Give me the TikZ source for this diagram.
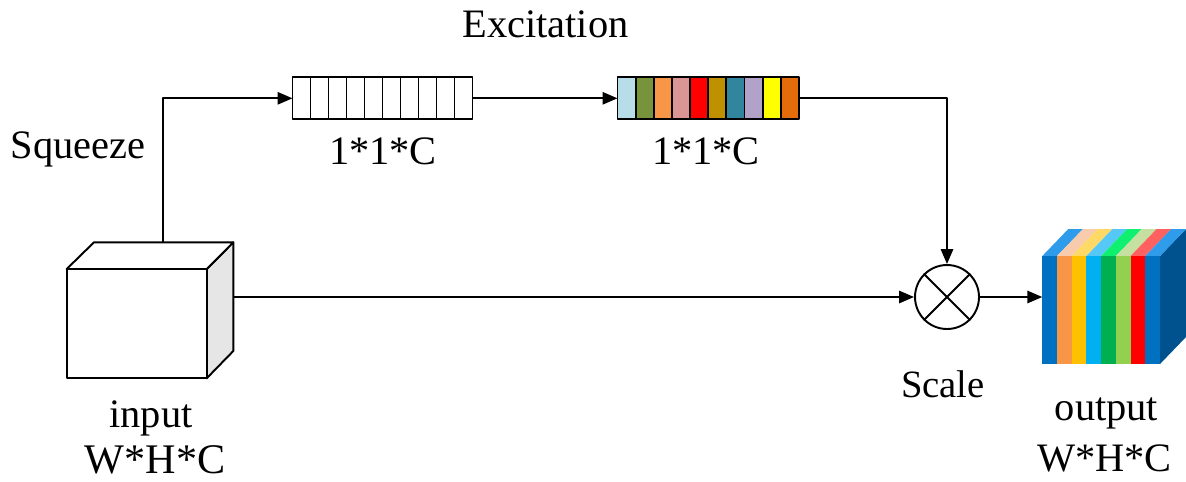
\documentclass[tikz,border=0pt]{standalone}
\usepackage{fontspec}
\setmainfont{Liberation Serif}
\usetikzlibrary{arrows.meta,calc}
% stripe colours of the excitation vector
\definecolor{e1}{HTML}{B7DDE8}
\definecolor{e2}{HTML}{77933C}
\definecolor{e3}{HTML}{F79646}
\definecolor{e4}{HTML}{D99694}
\definecolor{e5}{HTML}{FF0000}
\definecolor{e6}{HTML}{BF9000}
\definecolor{e7}{HTML}{31859C}
\definecolor{e8}{HTML}{B3A2C7}
\definecolor{e9}{HTML}{FFFF00}
\definecolor{e10}{HTML}{E46C0A}
% output block: front stripes and their lighter tops
\definecolor{f1}{HTML}{0070C0}\definecolor{t1}{HTML}{2E9BEB}
\definecolor{f2}{HTML}{F79646}\definecolor{t2}{HTML}{F8CBAD}
\definecolor{f3}{HTML}{FFC000}\definecolor{t3}{HTML}{FFD966}
\definecolor{f4}{HTML}{00B0F0}\definecolor{t4}{HTML}{55C8F8}
\definecolor{f5}{HTML}{00B050}\definecolor{t5}{HTML}{10F070}
\definecolor{f6}{HTML}{92D050}\definecolor{t6}{HTML}{C5E0A0}
\definecolor{f7}{HTML}{FF0000}\definecolor{t7}{HTML}{FF6060}
\definecolor{f8}{HTML}{0070C0}\definecolor{t8}{HTML}{2E9BEB}
\definecolor{outside}{HTML}{00528F}
\definecolor{inside}{HTML}{E6E6E6}
\begin{document}
\begin{tikzpicture}[x=0.02cm,y=-0.02cm,
  line width=1.1pt, line join=round,
  arr/.style={-{Triangle[length=8.5pt,width=7pt]}},
  lbl/.style={font=\fontsize{23}{27}\selectfont, inner sep=0pt, anchor=base},
  cell/.style={draw, line width=1.1pt},
  barbox/.style={minimum width=3.6cm, minimum height=0.84cm, inner sep=0pt, outer sep=0pt},
  mulnode/.style={circle, draw, minimum size=1.28cm, inner sep=0pt}]
\useasboundingbox (0,0) rectangle (1186,481);

% input block W*H*C
\coordinate (inA) at (66.7,269);
\coordinate (inB) at (206.7,378.3);
\filldraw[fill=inside] (206.7,269) -- (233.3,242.3) -- (233.3,351) -- (206.7,378.3) -- cycle;
\filldraw[fill=white] (66.7,269) -- (94,242.3) -- (233.3,242.3) -- (206.7,269) -- cycle;
\filldraw[fill=white] (inA) rectangle (inB);
\coordinate (inTop) at (163.3,242.3);
\coordinate (inRight) at (233.3,297);

% squeezed vector 1*1*C
\node[barbox] (sq) at (382.5,98.3) {};
\foreach \i in {0,...,9}
  \draw[cell, fill=white] ($(sq.west)+(18*\i,-21)$) rectangle ++(18,42);

% excitation vector 1*1*C
\node[barbox, minimum width=3.63cm] (ex) at (708.2,98.3) {};
\foreach \i in {1,...,10}
  \draw[cell, fill=e\i] ($(ex.west)+(18.15*\i-18.15,-21)$) rectangle ++(18.15,42);

% channel-wise multiplication
\node[mulnode] (mul) at (947,297) {};
\draw (mul.north west) -- (mul.south east);
\draw (mul.north east) -- (mul.south west);

% output block W*H*C
\coordinate (out) at (1042.3,297);
\fill[outside] (1160,256) -- (1186,229) -- (1186,337) -- (1160,364) -- cycle;
\foreach \i in {1,...,8} {
  \fill[t\i] (1042.3+14.71*\i-14.71,256) -- ++(26,-27) -- ++(14.71,0) -- ++(-26,27) -- cycle;
  \fill[f\i] (1042.3+14.71*\i-14.71,256) rectangle ++(14.71,108.3);
}

% connectors
\draw[arr] (inTop) |- (sq.west);
\draw[arr] (sq.east) -- (ex.west);
\draw[arr] (ex.east) -| (mul.north);
\draw[arr] (inRight) -- (mul.west);
\draw[arr] (mul.east) -- (out);

% labels
\node[lbl] (tExc) at (545.5,37.5) {Excitation};
\node[lbl] (tSq) at (78,158) {Squeeze};
\node[lbl] (tC1) at (383,164.3) {1*1*C};
\node[lbl] (tC2) at (706,164.3) {1*1*C};
\node[lbl, font=\fontsize{22}{26}\selectfont] (tScale) at (943,397.3) {Scale};
\node[lbl] (tIn) at (151,427) {input};
\node[lbl, font=\fontsize{24}{29}\selectfont] (tInDim) at (155,473) {W*H*C};
\node[lbl] (tOut) at (1106.5,420) {output};
\node[lbl] (tOutDim) at (1104.5,471) {W*H*C};
\end{tikzpicture}
\end{document}
